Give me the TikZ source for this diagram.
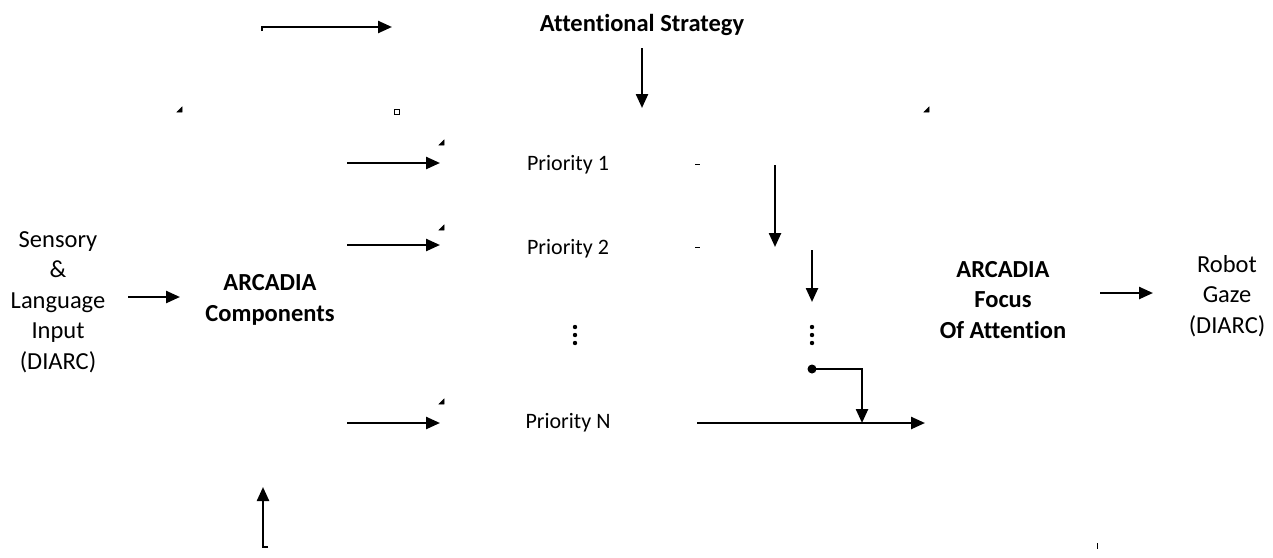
\documentclass[tikz,border=0pt]{standalone}
\usepackage{fontspec}
\setmainfont{Carlito}[Ligatures=NoCommon]
\usetikzlibrary{arrows.meta}
\begin{document}
\begin{tikzpicture}[x=1pt, y=-1pt, line width=2.4pt,
	>={Triangle[length=14pt,width=12pt]},
	lbl/.style={align=center, inner sep=0pt, font=\fontsize{24.5}{30.5}\selectfont},
	blbl/.style={align=center, inner sep=0pt, font=\fontsize{24.5}{30.5}\selectfont\bfseries},
	prio/.style={inner sep=0pt, font=\fontsize{22}{26}\selectfont},
	corner/.style={fill, line width=0.5pt},
	stub/.style={line width=1pt}]

	\useasboundingbox (0,0) rectangle (1273,557);

	% texts
	\node (strat) [blbl] at (642,25) {Attentional Strategy};
	\node (input) [lbl] at (58,302) {Sensory\\\&\\Language\\Input\\(DIARC)};
	\node (comp) [blbl] at (270,300) {ARCADIA\\Components};
	\node (p1) [prio] at (568,165) {Priority 1};
	\node (p2) [prio] at (568,249) {Priority 2};
	\node (pN) [prio] at (568,423) {Priority N};
	\node (focus) [blbl] at (1003,300) {ARCADIA\\Focus\\Of Attention};
	\node (gaze) [lbl] at (1227,296) {Robot\\Gaze\\(DIARC)};

	% vertical dots
	\coordinate (pdots) at (575,335);
	\coordinate (qdots) at (812,335);
	\foreach \d in {-8,0,8} {
		\fill ([yshift=-\d pt]pdots) circle (2.2pt);
		\fill ([yshift=-\d pt]qdots) circle (2.2pt);
	}

	% free ends
	\coordinate (tA) at (262,31);
	\coordinate (tB) at (392,27);
	\coordinate (sA) at (642,48);
	\coordinate (sB) at (642,108);
	\coordinate (a1) at (347,163);
	\coordinate (b1) at (440,163);
	\coordinate (a2) at (347,245);
	\coordinate (b2) at (440,245);
	\coordinate (aN) at (347,423);
	\coordinate (bN) at (440,423);
	\coordinate (c1) at (775,165);
	\coordinate (d1) at (775,247);
	\coordinate (c2) at (812,250);
	\coordinate (d2) at (812,302);
	\coordinate (jn) at (812,369);
	\coordinate (jm) at (862,423);
	\coordinate (oA) at (697,423);
	\coordinate (oB) at (925,423);
	\coordinate (iA) at (128,297);
	\coordinate (iB) at (180,297);
	\coordinate (gA) at (1100,293);
	\coordinate (gB) at (1153,293);
	\coordinate (uA) at (268,547);
	\coordinate (uB) at (263,487);

	\draw[->] (tA) |- (tB);
	\draw[->] (sA) -- (sB);
	\draw[->] (a1) -- (b1);
	\draw[->] (a2) -- (b2);
	\draw[->] (aN) -- (bN);
	\draw[->] (c1) -- (d1);
	\draw[->] (c2) -- (d2);
	\draw[->] (oA) -- (oB);
	\draw[->] (iA) -- (iB);
	\draw[->] (gA) -- (gB);
	\draw[->] (uA) -| (uB);
	\fill (jn) circle (4.5pt);
	\draw[->] (jn) -| (jm);

	% leftover corner marks
	\foreach \x/\y in {180/110, 442/143, 442/228, 442/402, 927/110}
		\draw[corner] (\x+2,\y-3) -- (\x+2,\y+2) -- (\x-3,\y+2) -- cycle;
	\draw[stub] (394,109) rectangle (399,114);
	\draw[stub] (695,164) -- (700,164);
	\draw[stub] (695,247) -- (700,247);
	\draw[stub] (1097,543) -- (1097,549);

\end{tikzpicture}
\end{document}
